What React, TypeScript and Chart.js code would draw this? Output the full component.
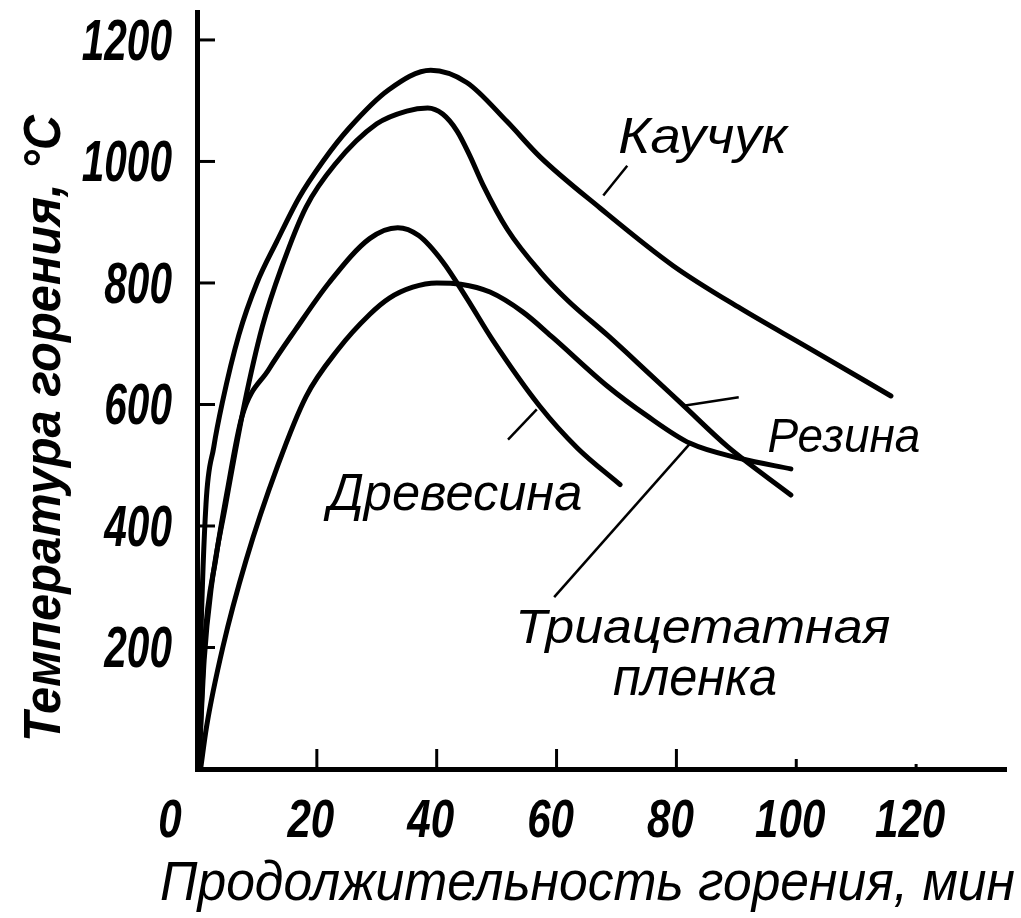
import React, { useEffect, useRef } from "react";
import { Chart, registerables } from "chart.js";

Chart.register(...registerables);

// ---- data ----
const kauchukX = [0.2, 0.6, 1.5, 2.8, 4.2, 7, 10, 13.3, 17, 21, 25.4, 32, 39, 45, 51.7, 57.2, 67.3, 79.5, 90.7, 101.9, 115.8];
const kauchukY = [0, 200, 436, 530, 602, 715, 800, 868, 940, 1000, 1055, 1118, 1150, 1130, 1066, 1008, 923, 828, 758, 694, 614];

const rezinaX = [0.3, 1.2, 2.4, 4.8, 7.9, 10.9, 14.2, 18.2, 23, 30, 35, 38.5, 41, 43.4, 45.5, 47.7, 51.8, 57.3, 62, 68.5, 75, 81.2, 88.5, 99.1];
const rezinaY = [0, 180, 300, 436, 600, 728, 828, 925, 995, 1062, 1083, 1088, 1078, 1050, 1010, 962, 888, 818, 770, 714, 655, 598, 531, 451];

const drevesinaX = [0.3, 1.2, 3.2, 5, 7.5, 12, 16.5, 22, 28.8, 33.5, 37, 41, 45, 49.4, 57.2, 63.5, 70.6];
const drevesinaY = [0, 200, 350, 455, 580, 658, 724, 800, 873, 891, 878, 835, 775, 705, 597, 528, 468];

const plenkaX = [0.6, 1.6, 4.3, 8.2, 13.5, 18.2, 23.5, 28.8, 32.1, 36, 40, 44, 48.9, 54.4, 59.4, 68.5, 75, 82.3, 90.7, 99.1];
const plenkaY = [0, 70, 200, 344, 500, 613, 690, 748, 775, 793, 800, 798, 785, 752, 710, 630, 582, 536, 511, 494];

const seriesNames = ["Каучук", "Резина", "Древесина", "Триацетатная пленка"];

const xTickValues = [0, 20, 40, 60, 80, 100, 120];
const xTickLabels = ["0", "20", "40", "60", "80", "100", "120"];
const yTickValues = [200, 400, 600, 800, 1000, 1200];
const yTickLabels = ["200", "400", "600", "800", "1000", "1200"];

const xTitle = "Продолжительность горения, мин";
const yTitle = "Температура горения, °С";

const curveLabels = ["Каучук", "Резина", "Древесина", "Триацетатная", "пленка"];

const FONT = '"Liberation Sans", Arial, sans-serif';

function toPts(xs: number[], ys: number[]) {
  return xs.map((x, i) => ({ x, y: ys[i] }));
}

function fitText(ctx: CanvasRenderingContext2D, text: string, left: number, right: number, baseline: number, size: number, weight: string) {
  ctx.save();
  ctx.font = `italic ${weight} ${size}px ${FONT}`;
  const w = ctx.measureText(text).width;
  const sx = (right - left) / w;
  ctx.translate(left, baseline);
  ctx.scale(sx, 1);
  ctx.textAlign = "left";
  ctx.textBaseline = "alphabetic";
  ctx.fillStyle = "#000";
  ctx.fillText(text, 0, 0);
  ctx.restore();
}

const overlay = {
  id: "overlay",
  afterDraw(chart: any) {
    const ctx: CanvasRenderingContext2D = chart.ctx;
    const xs = chart.scales.x;
    const ys = chart.scales.y;
    const area = chart.chartArea;
    const px = (v: number) => xs.getPixelForValue(v);
    const py = (v: number) => ys.getPixelForValue(v);
    ctx.save();
    ctx.strokeStyle = "#000";
    ctx.fillStyle = "#000";

    // inner tick marks
    ctx.lineWidth = 3;
    yTickValues.forEach((v) => {
      ctx.beginPath();
      ctx.moveTo(area.left, py(v));
      ctx.lineTo(area.left + 18, py(v));
      ctx.stroke();
    });
    const xTickLen: Record<number, number> = { 0: 0, 20: 20, 40: 20, 60: 20, 80: 20, 100: 10, 120: 5 };
    xTickValues.forEach((v) => {
      const len = xTickLen[v] ?? 20;
      if (!len) return;
      ctx.beginPath();
      ctx.moveTo(px(v), area.bottom);
      ctx.lineTo(px(v), area.bottom - len);
      ctx.stroke();
    });

    // tick labels
    ctx.font = `italic bold 58px ${FONT}`;
    yTickLabels.forEach((t, i) => {
      ctx.save();
      const w = ctx.measureText(t).width * 0.7;
      ctx.translate(172 - w, py(yTickValues[i]) + 20);
      ctx.scale(0.7, 1);
      ctx.textBaseline = "alphabetic";
      ctx.fillText(t, 0, 0);
      ctx.restore();
    });
    ctx.font = `italic bold 54px ${FONT}`;
    xTickLabels.forEach((t, i) => {
      ctx.save();
      const v = xTickValues[i];
      const w = ctx.measureText(t).width * 0.78;
      const cx = px(v) + (v === 0 ? -27 : -6);
      ctx.translate(cx - w / 2, area.bottom + 68);
      ctx.scale(0.78, 1);
      ctx.textBaseline = "alphabetic";
      ctx.fillText(t, 0, 0);
      ctx.restore();
    });

    // axis titles
    fitText(ctx, xTitle, 160, 1015, 900, 56, "normal");
    ctx.save();
    ctx.translate(60, 742);
    ctx.rotate(-Math.PI / 2);
    fitText(ctx, yTitle, 0, 742 - 115, 0, 52, "bold");
    ctx.restore();

    // leader lines (data coordinates)
    const leaders: [number, number, number, number][] = [
      [67.8, 944, 71.8, 993],
      [81.2, 598, 90.4, 612],
      [82.3, 536, 59.6, 283],
      [56.7, 592, 51.9, 542],
    ];
    ctx.lineWidth = 2.5;
    leaders.forEach(([x1, y1, x2, y2]) => {
      ctx.beginPath();
      ctx.moveTo(px(x1), py(y1));
      ctx.lineTo(px(x2), py(y2));
      ctx.stroke();
    });

    // curve labels (data coordinates: left, right, baseline)
    const anchors: [number, number, number, number][] = [
      [70.3, 98.5, 1014, 50],
      [95.2, 120.7, 522, 48],
      [21.9, 64.3, 426, 52],
      [53.1, 115.7, 207, 48],
      [69.4, 96.8, 122, 54],
    ];
    curveLabels.forEach((t, i) => {
      const [l, r, b, s] = anchors[i];
      fitText(ctx, t, px(l), px(r), py(b), s, "normal");
    });
    ctx.restore();
  },
};

export default function App() {
  const ref = useRef<HTMLCanvasElement>(null);
  useEffect(() => {
    if (!ref.current) return;
    const mk = (label: string, xs: number[], ys: number[]) => ({
      label,
      data: toPts(xs, ys),
      borderColor: "#000",
      backgroundColor: "#000",
      borderWidth: 5,
      pointRadius: 0,
      fill: false,
      cubicInterpolationMode: "monotone" as const,
      borderCapStyle: "round" as const,
    });
    const chart = new Chart(ref.current, {
      type: "line",
      data: {
        datasets: [
          mk(seriesNames[0], kauchukX, kauchukY),
          mk(seriesNames[1], rezinaX, rezinaY),
          mk(seriesNames[2], drevesinaX, drevesinaY),
          mk(seriesNames[3], plenkaX, plenkaY),
        ],
      },
      options: {
        animation: false,
        responsive: false,
        devicePixelRatio: 1,
        layout: { padding: { left: 197, top: 12, right: 15, bottom: 149 } },
        plugins: { legend: { display: false }, tooltip: { enabled: false } },
        scales: {
          x: {
            type: "linear",
            min: 0,
            max: 135,
            grid: { display: false },
            ticks: { display: false },
            border: { display: true, color: "#000", width: 5 },
            afterFit: (s: any) => { s.height = 0; },
          },
          y: {
            type: "linear",
            min: 0,
            max: 1246,
            grid: { display: false },
            ticks: { display: false },
            border: { display: true, color: "#000", width: 5 },
            afterFit: (s: any) => { s.width = 0; },
          },
        },
      },
      plugins: [overlay],
    });
    return () => chart.destroy();
  }, []);
  return (
    <div style={{ position: "fixed", left: 0, top: 0, width: 1021, height: 918, background: "#fff" }}>
      <canvas ref={ref} width={1021} height={918} style={{ display: "block" }} />
    </div>
  );
}
